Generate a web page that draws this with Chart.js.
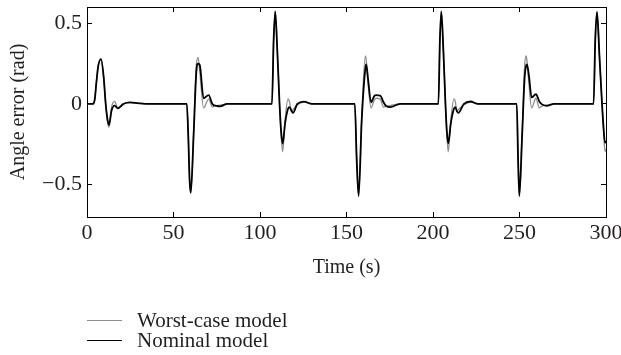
<!DOCTYPE html>
<html>
<head>
<meta charset="utf-8">
<script src="https://cdn.jsdelivr.net/npm/chart.js@4.4.1/dist/chart.umd.min.js"></script>
<style>
  body { margin: 0; background: #fff; }
  #wrap { position: relative; width: 621px; height: 355px; }
  #legend { position: absolute; left: 87px; top: 310px; font: 21px "Liberation Serif", serif; color: #231f20; }
  #legend .row { display: flex; align-items: center; height: 20px; }
  #legend .swatch { width: 35px; margin-right: 15px; }
</style>
</head>
<body>
<div id="wrap">
  <canvas id="chart" width="621" height="355"></canvas>
  <div id="legend"></div>
</div>
<script>
// time samples (s), shared by both series
const time = [
  0, 3.5, 4.5, 5.4, 6.5, 8.1, 9.6, 10.8, 11.9, 12.7, 14.2, 16, 17.8, 19.5, 21, 25, 30, 36,
  57.7, 58.6, 59.3, 60.0, 61.6, 63.2, 64.2, 65.2, 67.4, 70.3, 72.5, 75, 77, 81,
  106.9, 107.9, 108.8, 110.0, 111.3, 112.2, 113.1, 114.5, 116.2, 117.0, 118.3, 119.1, 121.6, 125.4, 130,
  154.8, 155.9, 157.0, 158.8, 160.9, 161.4, 162.5, 164.2, 166.1, 167.2, 169.5, 171.4, 172.8, 175.3, 181,
  203.1, 204.0, 204.8, 206.0, 207.2, 208.0, 208.8, 210.3, 212.1, 212.9, 213.8, 214.6, 217.9, 221.7, 226,
  248.4, 249.2, 249.9, 251.5, 253.0, 253.8, 254.3, 255.5, 257.0, 259.5, 261.5, 262.6, 265.7, 270,
  292.8, 293.8, 294.8, 296.2, 297.7, 298.6, 299.4, 300
]

const nominal = [
  0, 0, 0.03, 0.13, 0.235, 0.277, 0.17, 0, -0.1, -0.13, -0.04, -0.01, -0.028, -0.015, 0, 0.01, 0.004, 0,
  0, -0.22, -0.47, -0.55, -0.2, 0.2, 0.25, 0.24, 0.035, 0.055, 0.0, -0.012, -0.015, 0,
  0, 0.4, 0.573, 0.33, 0.0, -0.17, -0.246, -0.12, -0.03, -0.02, -0.045, -0.056, 0.0, 0.014, 0,
  0, -0.35, -0.57, -0.1, 0.22, 0.244, 0.15, 0.01, 0.05, 0.054, 0.052, 0.01, -0.012, -0.02, 0,
  0, 0.4, 0.573, 0.33, 0.0, -0.17, -0.244, -0.12, -0.03, -0.02, -0.045, -0.056, 0.0, 0.015, 0,
  0, -0.35, -0.57, -0.2, 0.17, 0.235, 0.245, 0.17, 0.04, 0.06, 0.015, 0.0, -0.012, 0,
  0, 0.4, 0.569, 0.3, 0.0, -0.15, -0.24, -0.23
]

const worstCase = [
  0, 0, 0.03, 0.13, 0.235, 0.277, 0.17, 0, -0.11, -0.145, -0.02, 0.016, -0.025, -0.01, 0, 0.008, 0.003, 0,
  0, -0.22, -0.47, -0.55, -0.18, 0.24, 0.287, 0.2, -0.025, 0.03, -0.018, -0.01, -0.008, 0,
  0, 0.4, 0.573, 0.33, 0.0, -0.19, -0.296, -0.1, 0.031, 0.015, -0.046, -0.035, -0.005, 0.012, 0,
  0, -0.35, -0.57, -0.08, 0.298, 0.27, 0.12, -0.025, 0.025, 0.035, 0.03, -0.02, -0.015, -0.01, 0,
  0, 0.4, 0.573, 0.33, 0.0, -0.19, -0.296, -0.1, 0.031, 0.015, -0.046, -0.035, -0.005, 0.012, 0,
  0, -0.35, -0.57, -0.18, 0.24, 0.298, 0.27, 0.12, -0.025, 0.035, -0.025, -0.015, -0.008, 0,
  0, 0.4, 0.569, 0.3, 0.0, -0.17, -0.295, -0.28
]

const xTicks = [0, 50, 100, 150, 200, 250, 300]
const yTicks = [-0.5, 0, 0.5]

const series = [
  { label: "Worst-case model", values: worstCase, color: "#8c8c8c", width: 1.3, order: 2 },
  { label: "Nominal model", values: nominal, color: "#000000", width: 1.8, order: 1 },
]

const FONT = { family: "'Liberation Serif', serif", size: 20 }
const TICK_FONT = { family: "'Liberation Serif', serif", size: 22 }
const TEXT = "#231f20"
const TICK_LEN = -5

function fixedTicks(values) {
  return scale => { scale.ticks = values.map(v => ({ value: v })) }
}

// pin the box size and drop the label overhang padding chart.js adds
function pin(w, h) {
  return s => {
    if (w !== null) s.width = w
    if (h !== null) s.height = h
    s.paddingTop = s.paddingBottom = s.paddingLeft = s.paddingRight = 0
  }
}

function fmt(v) {
  if (v === 0) return "0"
  return (v < 0 ? "\u2212" : "") + Math.abs(v).toString()
}

const frame = { display: true, color: "#000", width: 1 }
const noGrid = { drawOnChartArea: false, tickLength: TICK_LEN, color: "#000", lineWidth: 1 }

new Chart(document.getElementById("chart"), {
  type: "line",
  data: {
    datasets: series.map(s => ({
      label: s.label,
      data: time.map((t, i) => ({ x: t, y: s.values[i] })),
      borderColor: s.color,
      borderWidth: s.width,
      pointRadius: 0,
      fill: false,
      cubicInterpolationMode: "monotone",
      order: s.order,
    })),
  },
  options: {
    responsive: false,
    animation: false,
    layout: { padding: { top: 7, right: 15, bottom: 75, left: 0 } },
    plugins: { legend: { display: false }, tooltip: { enabled: false } },
    scales: {
      x: {
        type: "linear", position: "bottom", min: 0, max: 300,
        afterBuildTicks: fixedTicks(xTicks),
        afterFit: pin(null, 63),
        grid: noGrid, border: frame,
        ticks: { font: TICK_FONT, color: TEXT, padding: 8, maxRotation: 0, callback: v => fmt(v) },
        title: { display: true, text: "Time (s)", font: FONT, color: TEXT, padding: { top: 0, bottom: 0 } },
      },
      x2: {
        type: "linear", position: "top", min: 0, max: 300,
        afterBuildTicks: fixedTicks(xTicks),
        afterFit: pin(null, 0),
        grid: noGrid, border: frame,
        ticks: { display: false },
      },
      y: {
        type: "linear", position: "left", min: -0.7, max: 0.6,
        afterBuildTicks: fixedTicks(yTicks),
        afterFit: pin(87, null),
        grid: noGrid, border: frame,
        ticks: { font: TICK_FONT, color: TEXT, padding: 10, callback: v => fmt(v) },
        title: { display: true, text: "Angle error (rad)", font: FONT, color: TEXT, padding: { top: 7, bottom: 0 } },
      },
      y2: {
        type: "linear", position: "right", min: -0.7, max: 0.6,
        afterBuildTicks: fixedTicks(yTicks),
        afterFit: pin(0, null),
        grid: noGrid, border: frame,
        ticks: { display: false },
      },
    },
  },
})

// legend below the plot, one entry per row
const legend = document.getElementById("legend")
series.forEach(s => {
  const row = document.createElement("div")
  row.className = "row"
  const sw = document.createElement("div")
  sw.className = "swatch"
  sw.style.borderTop = s.width + "px solid " + s.color
  const label = document.createElement("span")
  label.textContent = s.label
  row.append(sw, label)
  legend.append(row)
})
</script>
</body>
</html>
